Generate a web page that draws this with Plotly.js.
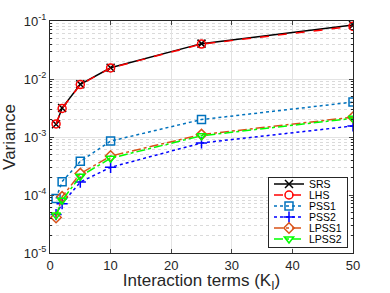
<!DOCTYPE html>
<html><head><meta charset="utf-8">
<script src="https://cdn.plot.ly/plotly-3.0.1.min.js"></script>
<style>html,body{margin:0;padding:0;background:#fff}#chart{width:390px;height:293px}</style>
</head><body><div id="chart"></div>
<script>
const kI = [1, 2, 5, 10, 25, 50];
const srs   = [1.66e-3, 3.16e-3, 8.1e-3, 1.56e-2, 4.07e-2, 8.5e-2];
const lhs   = [1.68e-3, 3.1e-3, 8.0e-3, 1.55e-2, 4.0e-2, 8.1e-2];
const pss1  = [8.7e-5, 1.7e-4, 3.8e-4, 8.5e-4, 2.0e-3, 4.0e-3];
const pss2  = [4.6e-5, 7.1e-5, 1.67e-4, 3.0e-4, 7.9e-4, 1.55e-3];
const lpss1 = [4.1e-5, 9.3e-5, 2.34e-4, 4.7e-4, 1.1e-3, 2.2e-3];
const lpss2 = [4.5e-5, 8.1e-5, 2.1e-4, 4.3e-4, 1.05e-3, 2.1e-3];
const seriesNames = ['SRS','LHS','PSS1','PSS2','LPSS1','LPSS2'];
const xTickVals = [0, 10, 20, 30, 40, 50];
const yTickVals = [1e-5, 1e-4, 1e-3, 1e-2, 1e-1];
const yTickText = ['10<sup>-5</sup>','10<sup>-4</sup>','10<sup>-3</sup>','10<sup>-2</sup>','10<sup>-1</sup>'];

const styles = [
  {color:'#000000', dash:'solid',   symbol:'x-thin-open'},
  {color:'#ff0000', dash:'dash',    symbol:'circle-open'},
  {color:'#0072bd', dash:'dot',     symbol:'square-open'},
  {color:'#0000ff', dash:'dot',     symbol:'cross-thin-open'},
  {color:'#d95319', dash:'dashdot', symbol:'diamond-open'},
  {color:'#00ff00', dash:'dashdot', symbol:'triangle-down-open'}
];
const data = [srs, lhs, pss1, pss2, lpss1, lpss2];
const traces = data.map((ys, i) => ({
  x: kI, y: ys, name: seriesNames[i], type: 'scatter', mode: 'lines+markers',
  line: {color: styles[i].color, dash: styles[i].dash, width: 1.5},
  marker: {symbol: styles[i].symbol, size: 8, color: styles[i].color, line: {color: styles[i].color, width: 1.5}}
}));

const layout = {
  width: 390, height: 293,
  margin: {l: 50, r: 37, t: 21, b: 40},
  paper_bgcolor: '#fff', plot_bgcolor: '#fff',
  font: {family: 'Liberation Sans, Arial, sans-serif', color: '#262626', size: 13},
  showlegend: true,
  legend: {x: 0.768, y: 0.02, xanchor: 'left', yanchor: 'bottom', bgcolor: '#fff',
           bordercolor: '#262626', borderwidth: 1, font: {size: 10.5, color:'#000'},
           tracegroupgap: 0, itemwidth: 30},
  xaxis: {
    range: [0, 50], tickvals: xTickVals, ticks: 'inside', ticklen: 4,
    showline: true, linecolor: '#262626', linewidth: 1, mirror: 'ticks',
    showgrid: true, gridcolor: '#e3e3e3', zeroline: false,
    minor: {showgrid: false, ticks: ''},
    tickfont: {size: 13},
    title: {text: 'Interaction terms (K<sub>I</sub>)', font: {size: 17, color: '#262626'}, standoff: 2}
  },
  yaxis: {
    type: 'log', range: [-5, -1], tickvals: yTickVals, ticktext: yTickText,
    ticks: 'inside', ticklen: 4,
    showline: true, linecolor: '#262626', linewidth: 1, mirror: 'ticks',
    showgrid: true, gridcolor: '#e3e3e3', zeroline: false,
    tickfont: {size: 13},
    minor: {dtick: 'D1', showgrid: true, gridcolor: '#dadada', griddash: 'dot', gridwidth: 1,
            ticks: 'inside', ticklen: 2, tickcolor: '#262626'},
    title: {text: 'Variance', font: {size: 17, color: '#262626'}, standoff: 4}
  }
};
Plotly.newPlot('chart', traces, layout, {displayModeBar: false, staticPlot: true}).then(gd => {
  const leg = gd.querySelector('g.legend');
  if (!leg) return;
  const items = Array.from(leg.querySelectorAll('g.traces'));
  if (items.length < 2) return;
  const parse = el => {
    const m = /translate\(\s*([-\d.e]+)[ ,]+([-\d.e]+)\s*\)/.exec(el.getAttribute('transform') || '');
    return m ? [parseFloat(m[1]), parseFloat(m[2])] : [0, 0];
  };
  const step = 11;
  const first = 7;
  items.forEach((it, i) => {
    const p = parse(it);
    it.setAttribute('transform', `translate(${p[0]},${first + i * step})`);
  });
  const bg = leg.querySelector('rect.bg');
  const w = parseFloat(bg.getAttribute('width'));
  const newH = items.length * step + 4;
  bg.setAttribute('height', newH);
  const rightEdge = 347, bottomEdge = 247;
  leg.setAttribute('transform', `translate(${rightEdge - w},${bottomEdge - newH})`);
  const sb = leg.querySelector('g.scrollbox');
  if (sb) sb.setAttribute('transform', 'translate(0,0)');
});
</script></body></html>
